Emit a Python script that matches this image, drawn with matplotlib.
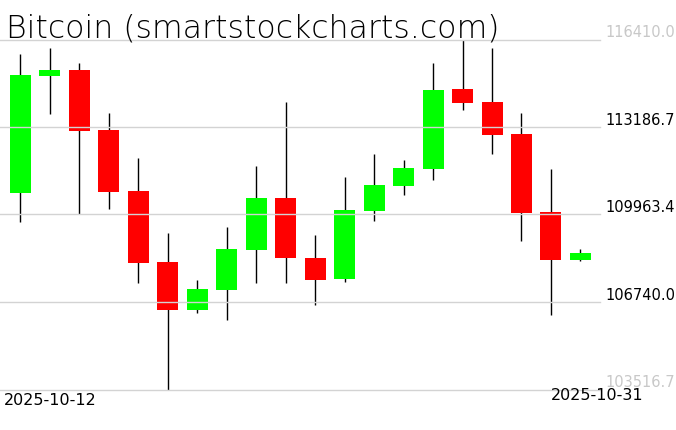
import matplotlib
matplotlib.use("Agg")
import matplotlib.pyplot as plt
import matplotlib.transforms as mtransforms

# Dados (Bitcoin, 2025-10-12 a 2025-10-31)
datas = ["2025-10-12", "2025-10-13", "2025-10-14", "2025-10-15", "2025-10-16",
         "2025-10-17", "2025-10-18", "2025-10-19", "2025-10-20", "2025-10-21",
         "2025-10-22", "2025-10-23", "2025-10-24", "2025-10-25", "2025-10-26",
         "2025-10-27", "2025-10-28", "2025-10-29", "2025-10-30", "2025-10-31"]
abertura = [110759, 115075, 115285, 113083, 110821, 108200, 106442, 107180, 108656, 110563,
            108350, 107586, 110094, 111017, 111644, 114584, 114104, 112924, 110047, 108287]
maxima = [115875, 116096, 115543, 113699, 112039, 109272, 107538, 109493, 111743, 114115,
          109198, 111349, 112186, 111965, 115543, 116410.0, 116096, 113699, 111633, 108682]
minima = [109689, 113673, 109984, 110168, 107438, 103516.7, 106332, 106073, 107438, 107438,
          106627, 107475, 109725, 110685, 111238, 113820, 112186, 108988, 106258, 108250]
fechamento = [115100, 115285, 113046, 110795, 108176, 106442, 107206, 108682, 110563, 108361,
              107564, 110120, 111043, 111670, 114547, 114079, 112887, 110021, 108287, 108534]

niveis = [103516.7, 106740.0, 109963.4, 113186.7, 116410.0]
titulo = "Bitcoin (smartstockcharts.com)"

W, H = 676, 431
fig = plt.figure(figsize=(W / 100, H / 100), dpi=100)
ax = fig.add_axes([0, (H - 390.5) / H, 600 / W, 350 / H])

x = list(range(len(datas)))
cores = ["#00ff00" if c >= o else "#ff0000" for o, c in zip(abertura, fechamento)]
base = [min(o, c) for o, c in zip(abertura, fechamento)]
altura = [abs(c - o) for o, c in zip(abertura, fechamento)]

ax.vlines(x, minima, maxima, color="black", lw=1.0, zorder=2)
ax.bar(x, altura, bottom=base, width=0.713, color=cores, zorder=3)

for v in niveis:
    ax.axhline(v, color="#d3d3d3", lw=1.0, zorder=5, clip_on=False)

ax.set_xlim(-0.6956, 19.664)
ax.set_ylim(niveis[0], niveis[-1])
ax.set_xticks([])
ax.set_yticks([])
for s in ax.spines.values():
    s.set_visible(False)

# rotulos do eixo y, acima de cada linha
trans = mtransforms.blended_transform_factory(ax.transAxes, ax.transData)
for i, v in enumerate(niveis):
    cor = "#c8c8c8" if i in (0, len(niveis) - 1) else "black"
    ax.text(605 / 600, v, f"{v:.1f}", transform=trans, ha="left", va="bottom",
            fontsize=10.5, color=cor, clip_on=False)

fig.text(6.5 / W, 1 - 37.5 / H, titulo, ha="left", va="baseline",
         fontsize=22.7, color="black", family="DejaVu Sans", weight="light")

fig.text(4 / W, 1 - 401 / H, datas[0], ha="left", va="center", fontsize=11.5)
fig.text(643 / W, 1 - 396 / H, datas[-1], ha="right", va="center", fontsize=11.5)

fig.savefig("out.png", dpi=100)
